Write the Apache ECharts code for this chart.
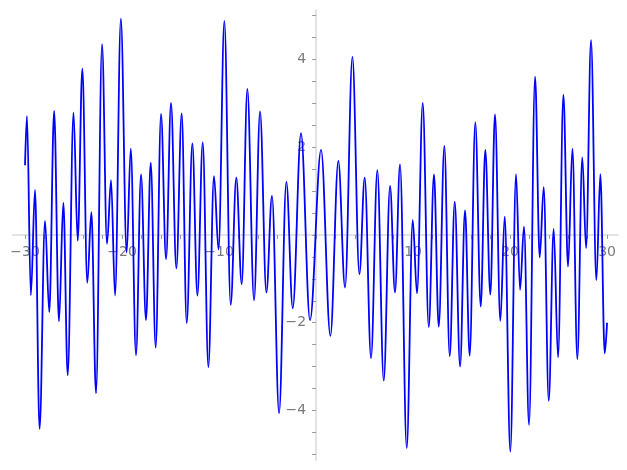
<!DOCTYPE html>
<html>
<head>
<meta charset="utf-8">
<script src="https://cdn.jsdelivr.net/npm/echarts@6/dist/echarts.min.js"></script>
<style>html,body{margin:0;padding:0;background:#fff}#c{width:627px;height:470px}</style>
</head>
<body>
<div id="c"></div>
<script>
// x positions of the curve's turning points
const xValues = [
  -30, -29.8, -29.4, -28.97, -28.5, -27.94, -27.5, -27.0, -26.5, -26.05, -25.6, -25.0, -24.57, -24.09, -23.58, -23.16, -22.68, -22.06, -21.55, -21.13, -20.72,
  -20.12, -19.52, -19.1, -18.56, -18.04, -17.53, -17.04, -16.53, -15.98, -15.46, -14.95, -14.4, -13.85, -13.33, -12.75, -12.23, -11.68, -11.1, -10.52, -10.05,
  -9.45, -8.8, -8.22, -7.66, -7.08, -6.39, -5.77, -5.12, -4.54, -3.81, -3.06, -2.4, -1.55, -0.62,
  0.52, 1.48, 2.3, 2.99, 3.75, 4.47, 5.02, 5.67, 6.32, 6.98, 7.63, 8.14, 8.66, 9.35, 9.97, 10.41,
  11.0, 11.62, 12.16, 12.65, 13.23, 13.78, 14.3, 14.85, 15.36, 15.84, 16.42, 16.98, 17.45, 17.97, 18.45, 19.0, 19.45, 20.03,
  20.62, 21.03, 21.44, 21.96, 22.58, 23.06, 23.47, 23.99, 24.5, 24.95, 25.5, 25.98, 26.43, 26.94, 27.45, 27.84, 28.35, 28.9, 29.31, 29.76, 30
];
const yValues = [
  1.59, 2.71, -1.37, 1.03, -4.42, 0.32, -1.76, 2.83, -1.97, 0.74, -3.2, 2.79, -0.13, 3.79, -1.09, 0.52, -3.61, 4.35, -0.2, 1.25, -1.38,
  4.93, -0.4, 1.97, -2.74, 1.38, -1.94, 1.65, -2.57, 2.76, -0.55, 3.01, -0.76, 2.77, -2.01, 2.09, -1.38, 2.11, -3.01, 1.34, -0.33,
  4.88, -1.59, 1.31, -1.12, 3.33, -1.49, 2.82, -1.31, 0.89, -4.06, 1.21, -1.67, 2.32, -1.94,
  1.94, -2.3, 1.69, -1.2, 4.06, -0.89, 1.31, -2.81, 1.48, -3.32, 1.12, -1.31, 1.61, -4.86, 0.34, -1.33,
  3.01, -2.1, 1.38, -2.09, 2.03, -2.76, 0.76, -3.0, 0.56, -2.75, 2.57, -1.63, 1.94, -1.36, 2.75, -1.96, 0.42, -4.94,
  1.39, -1.25, 0.19, -4.33, 3.61, -0.51, 1.09, -3.78, 0.14, -2.79, 3.2, -0.72, 1.97, -2.83, 1.77, -0.3, 4.44, -1.03, 1.39, -2.7, -2.0
];
const xTickLabels = [-30, -20, -10, 10, 20, 30];
const xMinorTicks = [-30,-28,-26,-24,-22,-20,-18,-16,-14,-12,-10,-8,-6,-4,-2,0,2,4,6,8,10,12,14,16,18,20,22,24,26,28,30];
const yTickLabels = [-4, -2, 2, 4];
const yMinorTicks = [-5,-4.5,-4,-3.5,-3,-2.5,-2,-1.5,-1,-0.5,0,0.5,1,1.5,2,2.5,3,3.5,4,4.5,5];

const points = xValues.map((x, i) => [x, yValues[i]]);
const fmt = v => String(v).replace('-', '\u2212');

const X_MIN = -31.24, X_MAX = 31.13, Y_MIN = -5.13, Y_MAX = 5.13;
const G_LEFT = 13, G_RIGHT = 9, G_TOP = 10, G_BOTTOM = 10;
const W = 627, H = 470;
// shift axes from grid edges to the zero lines (derived from the scale)
const gw = W - G_LEFT - G_RIGHT, gh = H - G_TOP - G_BOTTOM;
const xAxisOffset = -gh * (0 - Y_MIN) / (Y_MAX - Y_MIN);
const yAxisOffset = -gw * (0 - X_MIN) / (X_MAX - X_MIN);

const axisCommon = {
  type: 'value',
  axisLine: { onZero: false, lineStyle: { color: '#e3e3e3', width: 2 } },
  axisTick: { show: true, length: 4, lineStyle: { color: '#9a9a9a', width: 1 } },
  splitLine: { show: false },
  axisLabel: { color: '#7a7a7a', fontSize: 14, fontFamily: 'DejaVu Sans', formatter: fmt }
};

const chart = echarts.init(document.getElementById('c'), null, { renderer: 'canvas' });
chart.setOption({
  animation: false,
  backgroundColor: '#ffffff',
  grid: { left: G_LEFT, right: G_RIGHT, top: G_TOP, bottom: G_BOTTOM, containLabel: false, outerBoundsMode: 'none' },
  xAxis: Object.assign({}, axisCommon, {
    position: 'bottom', offset: xAxisOffset,
    min: X_MIN, max: X_MAX,
    axisTick: Object.assign({}, axisCommon.axisTick, { customValues: xMinorTicks }),
    axisLabel: Object.assign({}, axisCommon.axisLabel, { customValues: xTickLabels, margin: 10 })
  }),
  yAxis: Object.assign({}, axisCommon, {
    position: 'left', offset: yAxisOffset,
    min: Y_MIN, max: Y_MAX,
    axisTick: Object.assign({}, axisCommon.axisTick, { customValues: yMinorTicks }),
    axisLabel: Object.assign({}, axisCommon.axisLabel, { customValues: yTickLabels, margin: 10 })
  }),
  series: [{
    type: 'line',
    data: points,
    showSymbol: false,
    smooth: 0.36,
    smoothMonotone: 'x',
    lineStyle: { color: '#0000ff', width: 1.8 },
    z: 5
  }]
});
</script>
</body>
</html>
